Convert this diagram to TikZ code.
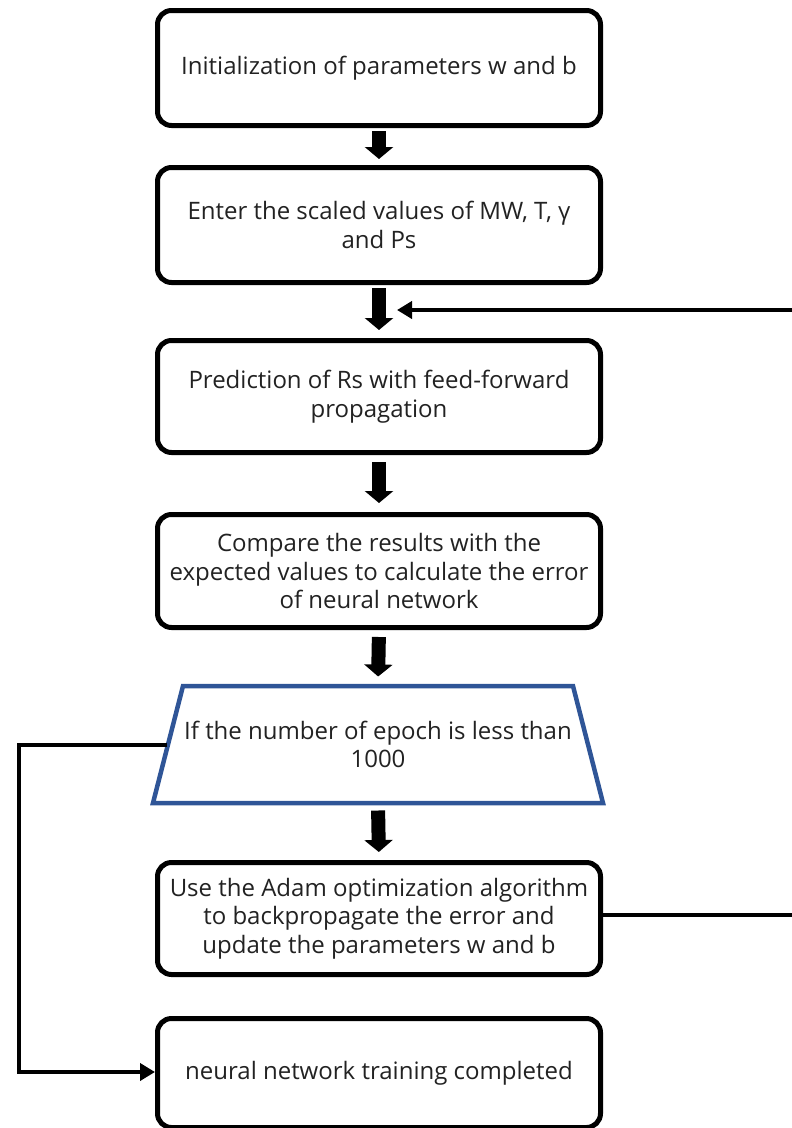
\documentclass[tikz,border=0pt]{standalone}
\usepackage{fontspec}
\setmainfont{Open Sans}
\usetikzlibrary{arrows.meta}
\definecolor{trapblue}{HTML}{2F5597}
\definecolor{txt}{HTML}{222222}
\begin{document}
\begin{tikzpicture}[x=1pt,y=-1pt,
  labelfont/.style={font=\fontsize{24}{28.5}\selectfont},
  stepbox/.style={draw=black, line width=5pt, rounded corners=14pt, fill=white,
    minimum width=443pt, align=center, text=txt, inner sep=2pt, labelfont},
  flowarrow/.style={line width=14pt, -{Triangle[width=28pt,length=12pt]}},
  linkline/.style={line width=4.5pt},
  linkarrow/.style={line width=4.5pt, -{Triangle[width=17pt,length=15pt]}}]
\useasboundingbox (0,0) rectangle (792,1128);

% process boxes
\node[stepbox, minimum height=115pt] (b1) at (379,68) {Initialization of parameters w and b};
\node[stepbox, minimum height=115pt] (b2) at (379,225) {Enter the scaled values of MW, T, γ\\and Ps};
\node[stepbox, minimum height=112pt] (b3) at (379,396.5) {Prediction of Rs with feed-forward\\propagation};
\node[stepbox, minimum height=113pt] (b4) at (379,571) {Compare the results with the\\expected values to calculate the error\\of neural network};
\node[stepbox, minimum height=112pt] (b6) at (379,918.5) {Use the Adam optimization algorithm\\to backpropagate the error and\\update the parameters w and b};
\node[stepbox, minimum height=109pt] (b7) at (379,1073) {neural network training completed};

% decision trapezoid
\draw[trapblue, line width=4.5pt, line join=miter]
  (183,686) -- (573,686) -- (603,803) -- (153,803) -- cycle;
\node[align=center, text=txt, labelfont, inner sep=0pt] (trap) at (378,744.5)
  {If the number of epoch is less than\\1000};
\coordinate (trapN) at (378,683.5);
\coordinate (trapS) at (378,805.5);
\coordinate (trapL) at (167,745);

% main flow
\draw[flowarrow, shorten <=3pt, shorten >=6pt] (b1.south) -- (b2.north);
\draw[flowarrow, shorten <=3pt, shorten >=8pt] (b2.south) -- (b3.north);
\draw[flowarrow, shorten <=7pt, shorten >=9pt] (b3.south) -- (b4.north);
\draw[flowarrow, shorten <=7pt, shorten >=7pt] (b4.south) -- (trapN);
\draw[flowarrow, shorten <=5pt, shorten >=8pt] (trapS) -- (b6.north);

% loop back to the prediction step
\coordinate (fbOut) at (792,915);
\coordinate (fbIn) at (792,310);
\coordinate (fbTip) at (397,310);
\draw[linkline] (b6.east |- fbOut) -- (fbOut);
\draw[linkarrow] (fbIn) -- (fbTip);

% exit to training completed
\coordinate (exitCorner) at (19,1072);
\draw[linkarrow, line join=miter] (trapL) -| (exitCorner) -- (b7.west |- exitCorner);
\end{tikzpicture}
\end{document}
